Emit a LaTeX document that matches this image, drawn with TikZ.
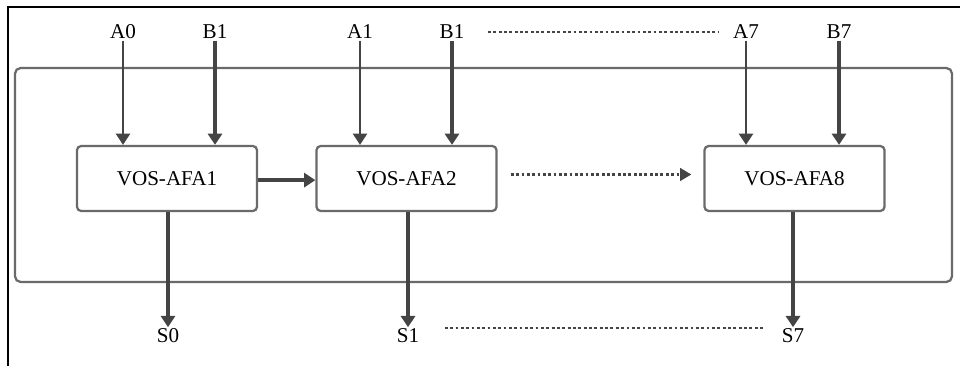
\documentclass[tikz,border=0pt]{standalone}
\usepackage{fontspec}
\setmainfont{Liberation Serif}
\usetikzlibrary{arrows.meta, positioning}
\definecolor{framegray}{HTML}{6A6A6A}
\definecolor{arrowgray}{HTML}{444444}

\begin{document}
\begin{tikzpicture}[x=0.025cm, y=-0.025cm,
    afabox/.style={draw=framegray, line width=1.6pt, rounded corners=3pt, minimum width=4.5cm, minimum height=1.625cm, font=\fontsize{15}{17}\selectfont},
    sig/.style={inner sep=1pt, font=\fontsize{15}{17}\selectfont},
    flow/.style={-{Triangle[width=10pt,length=8pt]}, arrowgray, line width=1.8pt},
    flowthick/.style={flow, line width=2.4pt},
    dotline/.style={arrowgray, line width=1.7pt, dash pattern=on 2pt off 1.8pt}]
        \useasboundingbox (0,0) rectangle (960,366);
        \draw[black, line width=1.2pt] (8,366) -- (8,7) -- (960,7);
        \draw[framegray, line width=1.6pt, rounded corners=4pt] (15,68) rectangle (952,282);
        % adders
        \node[afabox] (afa1) at (167,178.5) {VOS-AFA1};
        \node[afabox] (afa2) at (406.5,178.5) {VOS-AFA2};
        \node[afabox] (afa8) at (794.5,178.5) {VOS-AFA8};
        % inputs
        \node[sig] (a0) at (123,32) {A0};
        \node[sig] (b1a) at (215,32) {B1};
        \node[sig] (a1) at (360,32) {A1};
        \node[sig] (b1b) at (452,32) {B1};
        \node[sig] (a7) at (746,32) {A7};
        \node[sig] (b7) at (839,32) {B7};
        % outputs
        \node[sig] (s0) at (168,336) {S0};
        \node[sig] (s1) at (408,336) {S1};
        \node[sig] (s7) at (793,336) {S7};
        \draw[flow] (a0) -- (a0 |- afa1.north);
        \draw[flowthick] (b1a) -- (b1a |- afa1.north);
        \draw[flow] (a1) -- (a1 |- afa2.north);
        \draw[flowthick] (b1b) -- (b1b |- afa2.north);
        \draw[flow] (a7) -- (a7 |- afa8.north);
        \draw[flowthick] (b7) -- (b7 |- afa8.north);
        \draw[flowthick] (s0 |- afa1.south) -- (s0);
        \draw[flowthick] (s1 |- afa2.south) -- (s1);
        \draw[flowthick] (s7 |- afa8.south) -- (s7);
        \draw[flowthick] ([yshift=-0.04cm]afa1.east) -- ([yshift=-0.04cm]afa2.west);
        % dotted continuation
        \draw[dotline] ([xshift=0.55cm]b1b.east) -- ([xshift=-0.3cm]a7.west);
        \draw[dotline, -{Triangle[width=9pt,length=8pt]}] ([xshift=0.33cm, yshift=0.1cm]afa2.east) -- ([xshift=-0.3cm, yshift=0.1cm]afa8.west);
        \draw[dotline] ([xshift=0.6cm, yshift=0.2cm]s1.east) -- ([xshift=-0.4cm, yshift=0.2cm]s7.west);
\end{tikzpicture}
\end{document}
